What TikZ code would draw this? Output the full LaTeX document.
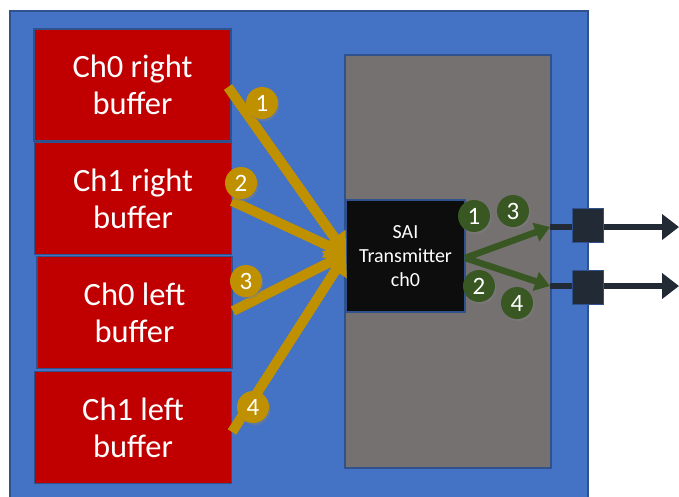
\documentclass[tikz,border=0pt]{standalone}
\usepackage{fontspec}
\setmainfont{Carlito}
\usetikzlibrary{arrows.meta,shadows}
\definecolor{outerblue}{HTML}{4472C4}
\definecolor{edgeblue}{HTML}{2F528F}
\definecolor{bufred}{HTML}{C00000}
\definecolor{saigray}{HTML}{767171}
\definecolor{saiblack}{HTML}{0D0D0D}
\definecolor{goldc}{HTML}{BF9000}
\definecolor{dgreen}{HTML}{385723}
\definecolor{navyc}{HTML}{222A35}
\begin{document}
\begin{tikzpicture}[x=1pt,y=-1pt,
  bufbox/.style={draw=edgeblue, line width=1.5pt, fill=bufred, text=white,
    minimum width=197pt, minimum height=112pt, align=center, inner sep=0pt,
    font=\fontsize{32.5}{37}\selectfont},
  numgold/.style={circle, fill=goldc, text=white, minimum size=32pt, inner sep=0pt,
    font=\fontsize{25}{25}\selectfont,
    drop shadow={shadow xshift=1.5pt, shadow yshift=-2pt, opacity=0.45}},
  numgreen/.style={numgold, fill=dgreen},
  goldarrow/.style={draw=goldc, line width=10pt,
    -{Triangle[length=20pt,width=26pt]}},
  greenarrow/.style={draw=dgreen, line width=6.5pt,
    -{Triangle[length=15pt,width=19pt]}},
  outarrow/.style={draw=navyc, line width=6pt,
    -{Triangle[length=17pt,width=25pt]}},
  pinbox/.style={draw=edgeblue, line width=1pt, fill=navyc,
    minimum width=31pt, minimum height=34pt, inner sep=0pt}
]
\useasboundingbox (0,0) rectangle (679,496);
\fill[white] (0,0) rectangle (679,496);
% outer board
\draw[draw=edgeblue, line width=1.5pt, fill=outerblue] (10,11) rectangle (588,500);
% buffers
\node[bufbox] (b1) at (132.5,85) {Ch0 right\\buffer};
\node[bufbox] (b2) at (133,198.5) {Ch1 right\\buffer};
\node[bufbox, minimum width=195pt] (b3) at (134.5,312.5) {Ch0 left\\buffer};
\node[bufbox] (b4) at (133,427.5) {Ch1 left\\buffer};
% SAI block
\node[draw=edgeblue, line width=1.5pt, fill=saigray, minimum width=206pt,
  minimum height=413pt, inner sep=0pt] (gray) at (448,261.5) {};
\node[draw=edgeblue, line width=1.5pt, fill=saiblack, text=white,
  minimum width=119pt, minimum height=112pt, inner sep=0pt, align=center,
  font=\fontsize{20}{24}\selectfont] (sai) at (405.5,256) {SAI\\Transmitter\\ch0};
% gold arrows
\coordinate (hub) at (346,254);
\coordinate (g1) at (228,87);
\coordinate (g2) at (232,201);
\coordinate (g3) at (233,311);
\coordinate (g4) at (232,432);
\draw[goldarrow] (g1) -- (hub);
\draw[goldarrow] (g2) -- (hub);
\draw[goldarrow] (g3) -- (hub);
\draw[goldarrow] (g4) -- (hub);
% output lines
\coordinate (o1s) at (550,227);
\coordinate (o1e) at (679,227);
\coordinate (o2s) at (550,286);
\coordinate (o2e) at (679,286);
\draw[outarrow] (o1s) -- (o1e);
\draw[outarrow] (o2s) -- (o2e);
\node[pinbox] (p1) at (587.5,225) {};
\node[pinbox] (p2) at (587.5,287.5) {};
% green arrows
\coordinate (gs) at (465,258);
\draw[greenarrow] (gs) -- (o1s);
\draw[greenarrow] (gs) -- (o2s);
% numbered circles
\node[numgold] (n1) at (262,103) {1};
\node[numgold] (n2) at (241,183) {2};
\node[numgold] (n3) at (246,281) {3};
\node[numgold] (n4) at (253,407) {4};
\node[numgreen] (m1) at (474,216) {1};
\node[numgreen] (m3) at (513,211) {3};
\node[numgreen] (m2) at (479,286) {2};
\node[numgreen] (m4) at (517,303) {4};
\end{tikzpicture}
\end{document}
